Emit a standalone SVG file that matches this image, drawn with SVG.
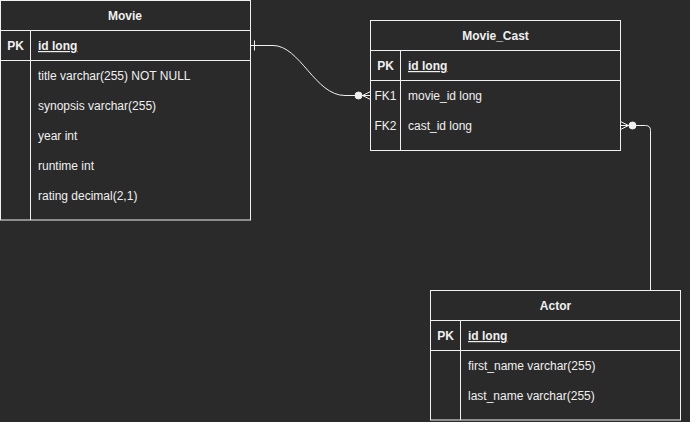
<svg xmlns="http://www.w3.org/2000/svg" width="690" height="422" viewBox="0 0 690 422">
<style>
.bg{fill:#2a2a2a}
.box{fill:#2a2a2a;stroke:#f0f0f0;stroke-width:1}
.ln{stroke:#f0f0f0;stroke-width:1;fill:none}
text{font-family:"Liberation Sans",Arial,sans-serif;font-size:12px;fill:#f0f0f0}
.b{font-weight:bold}
.c{text-anchor:middle}
.u{text-decoration:underline}
.edge{stroke:#f0f0f0;stroke-width:1;fill:none}
.dot{fill:#f0f0f0;stroke:#f0f0f0}
</style>
<rect class="bg" x="0" y="0" width="690" height="422"/>
<g id="movie">
<rect class="box" x="0.5" y="0.5" width="250" height="219.5"/>
<line class="ln" x1="0.5" y1="30.5" x2="250.5" y2="30.5"/>
<line class="ln" x1="0.5" y1="60.5" x2="250.5" y2="60.5"/>
<line class="ln" x1="30.5" y1="30.5" x2="30.5" y2="220"/>
<text class="b c" x="125" y="20">Movie</text>
<text class="b c" x="15.5" y="50">PK</text>
<text class="b u" x="38" y="50">id long</text>
<text x="38" y="80">title varchar(255) NOT NULL</text>
<text x="38" y="110">synopsis varchar(255)</text>
<text x="38" y="140">year int</text>
<text x="38" y="170">runtime int</text>
<text x="38" y="200">rating decimal(2,1)</text>
</g>
<g id="movie_cast">
<rect class="box" x="370.5" y="20.5" width="250" height="130"/>
<line class="ln" x1="370.5" y1="50.5" x2="620.5" y2="50.5"/>
<line class="ln" x1="370.5" y1="80.5" x2="620.5" y2="80.5"/>
<line class="ln" x1="400.5" y1="50.5" x2="400.5" y2="150.5"/>
<text class="b c" x="495.5" y="40">Movie_Cast</text>
<text class="b c" x="385.5" y="70">PK</text>
<text class="b u" x="408" y="70">id long</text>
<text class="c" x="385.5" y="100">FK1</text>
<text x="408" y="100">movie_id long</text>
<text class="c" x="385.5" y="130">FK2</text>
<text x="408" y="130">cast_id long</text>
</g>
<g id="actor">
<rect class="box" x="430.5" y="290.5" width="250" height="129.5"/>
<line class="ln" x1="430.5" y1="320.5" x2="680.5" y2="320.5"/>
<line class="ln" x1="430.5" y1="350.5" x2="680.5" y2="350.5"/>
<line class="ln" x1="460.5" y1="320.5" x2="460.5" y2="420"/>
<text class="b c" x="555.5" y="310">Actor</text>
<text class="b c" x="445.5" y="340">PK</text>
<text class="b u" x="468" y="340">id long</text>
<text x="468" y="370">first_name varchar(255)</text>
<text x="468" y="400">last_name varchar(255)</text>
</g>
<g id="connectors">
<path class="edge" d="M250.5,45.5 H273 C300,45.5 315,95.5 345,95.5 H370.5"/>
<line class="edge" x1="254.5" y1="40.5" x2="254.5" y2="50.5"/>
<circle class="dot" cx="358.5" cy="95.5" r="3.5"/>
<path class="edge" d="M362.5,95.5 L370.5,91.5 M362.5,95.5 L370.5,99.5"/>
<path class="edge" d="M620.5,125.5 H645.5 Q650.5,125.5 650.5,130.5 V290.5"/>
<circle class="dot" cx="632.5" cy="125.5" r="3.5"/>
<path class="edge" d="M628.5,125.5 L620.5,121.5 M628.5,125.5 L620.5,129.5"/>
</g>
</svg>
